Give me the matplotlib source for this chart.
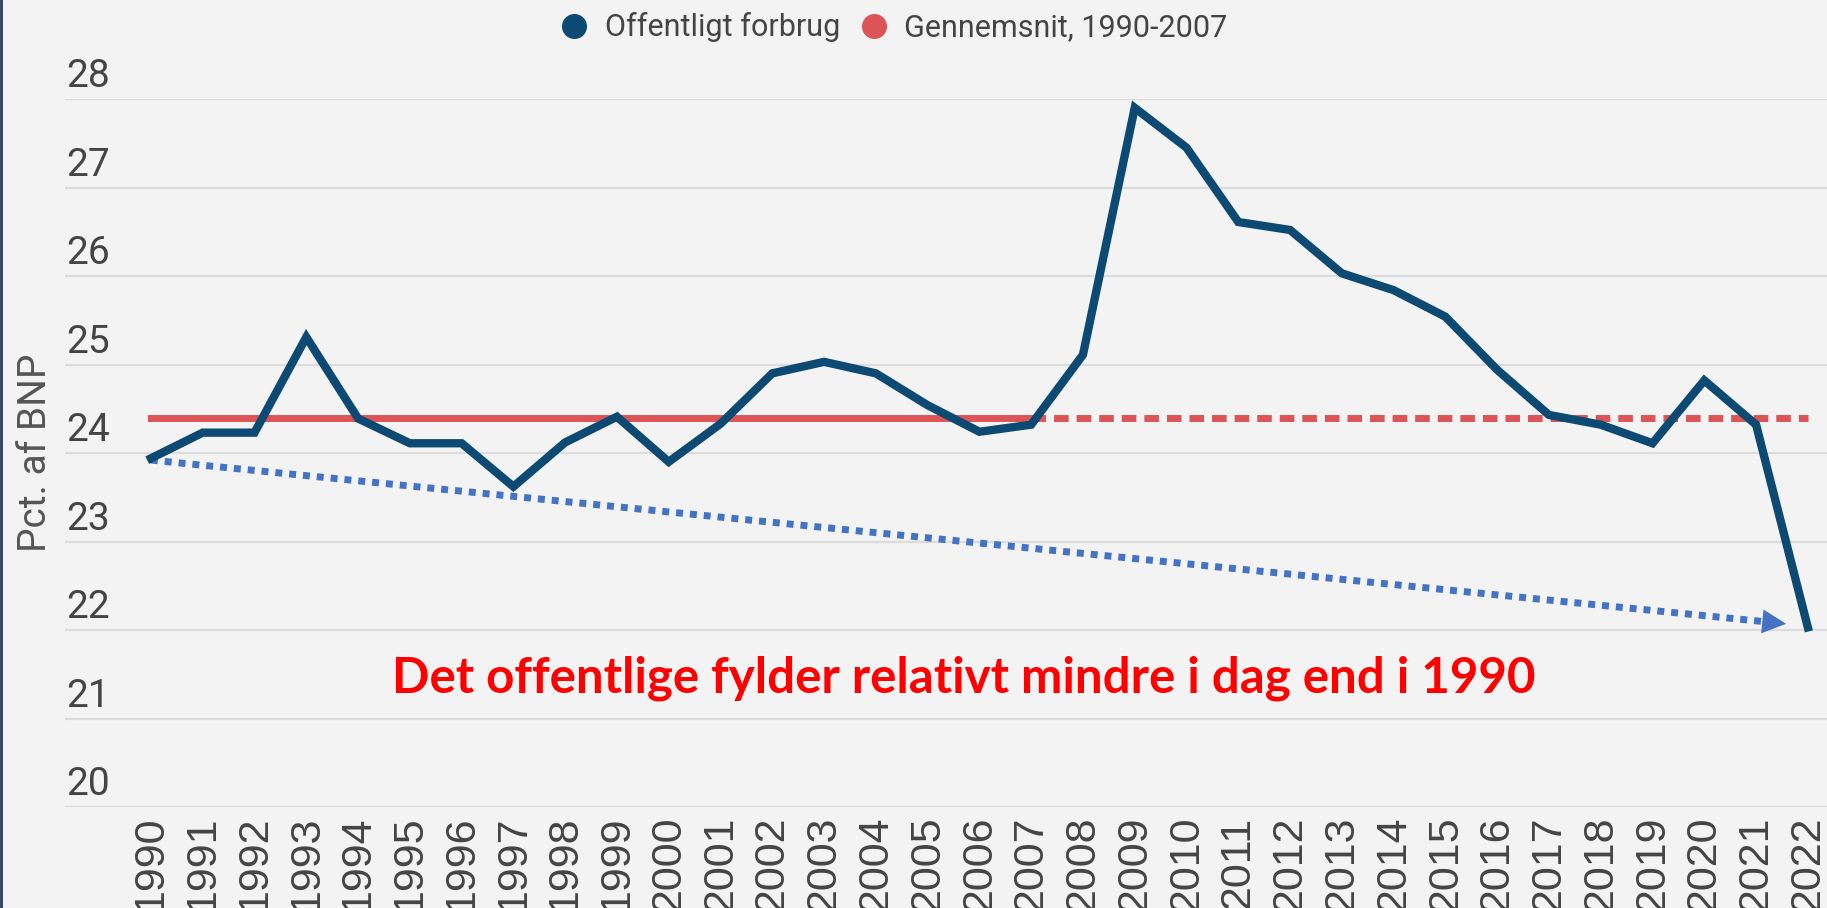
import matplotlib.pyplot as plt
from matplotlib.lines import Line2D
from matplotlib.transforms import ScaledTranslation

years = list(range(1990, 2023))
forbrug = [23.94, 24.23, 24.23, 25.31, 24.39, 24.11, 24.11, 23.62, 24.12, 24.41,
           23.9, 24.33, 24.9, 25.03, 24.9, 24.54, 24.24, 24.32, 25.11, 27.9,
           27.45, 26.61, 26.52, 26.03, 25.84, 25.54, 24.94, 24.43, 24.32, 24.11,
           24.82, 24.32, 22.03]
gennemsnit = 24.4
trend_start = (1990, 23.92)
trend_end = (2021.58, 22.07)
yticks = [20, 21, 22, 23, 24, 25, 26, 27, 28]

BLUE = "#0d4a73"
RED = "#dc5456"
ARROW = "#4472c4"
BG = "#f3f3f3"


def plot_forbrug():
    fig = plt.figure(figsize=(18.27, 9.08), dpi=100, facecolor=BG)
    ax = fig.add_axes([65 / 1827, 1 - 807 / 908, 1 - 65 / 1827, 708 / 908])
    ax.set_facecolor(BG)

    ax.plot(years, forbrug, color=BLUE, lw=6, solid_joinstyle="miter", zorder=4, clip_on=False)
    ax.plot([1990, 2007], [gennemsnit, gennemsnit], color=RED, lw=5, zorder=3)
    ax.plot([2007, 2022], [gennemsnit, gennemsnit], color=RED, lw=5, dashes=(2.1, 1.15), zorder=3)

    # dotted trend arrow
    ax.plot([trend_start[0], trend_end[0] - 0.45], [trend_start[1], trend_end[1] + 0.026],
            color=ARROW, lw=5, dashes=(1, 1), solid_capstyle="butt", zorder=2)
    ax.annotate("", xy=trend_end, xytext=(trend_end[0] - 0.5, trend_end[1] + 0.029),
                arrowprops=dict(arrowstyle="-|>", color=ARROW, lw=0, mutation_scale=43,
                                shrinkA=0, shrinkB=0), zorder=2)

    ax.text(2005.7, 21.45, "Det offentlige fylder relativt mindre i dag end i 1990",
            color="#ff0000", fontsize=35.5, fontweight="bold", family="Lato",
            ha="center", va="center")

    ax.set_xlim(1988.34, 2022.37)
    ax.set_ylim(20, 28)
    ax.set_xticks(years)
    ax.set_xticklabels([str(y) for y in years], rotation=90, family="Liberation Sans",
                       fontsize=31, color="#444444")
    ax.tick_params(axis="x", length=0, pad=6)

    ax.set_yticks(yticks)
    ax.tick_params(axis="y", length=0, pad=0)
    offset = ScaledTranslation(1 / 72, 8.6 / 72, fig.dpi_scale_trans)
    for t, v in zip(ax.yaxis.get_major_ticks(), yticks):
        t.label1.set_text(str(v))
        t.label1.set_transform(t.label1.get_transform() + offset)
        t.label1.set_ha("left")
        t.label1.set_va("baseline")
        t.label1.set_family("Roboto")
        t.label1.set_fontsize(28)
        t.label1.set_color("#444444")

    ax.grid(axis="y", color="#dcdcdc", lw=1.6)
    ax.set_axisbelow(True)
    for s in ax.spines.values():
        s.set_visible(False)

    ax.set_ylabel("Pct. af BNP", family="Roboto", fontsize=28, color="#555555")
    ax.yaxis.set_label_coords(-0.006, 0.5)

    handles = [Line2D([], [], marker="o", ls="none", color=BLUE, markersize=17),
               Line2D([], [], marker="o", ls="none", color=RED, markersize=17)]
    fig.legend(handles, ["Offentligt forbrug", "Gennemsnit, 1990-2007"], ncol=2,
               loc="center", bbox_to_anchor=(0.4888, 0.97), frameon=False,
               prop={"family": "Roboto", "size": 22}, labelcolor="#444444",
               handlelength=1.0, handletextpad=0.5, columnspacing=0.6)

    # thin dark border on the left edge
    fig.add_artist(Line2D([0.0008, 0.0008], [0, 1], transform=fig.transFigure,
                          color="#2b3a67", lw=2))

    fig.savefig("out.png", facecolor=BG)


if __name__ == "__main__":
    plot_forbrug()
